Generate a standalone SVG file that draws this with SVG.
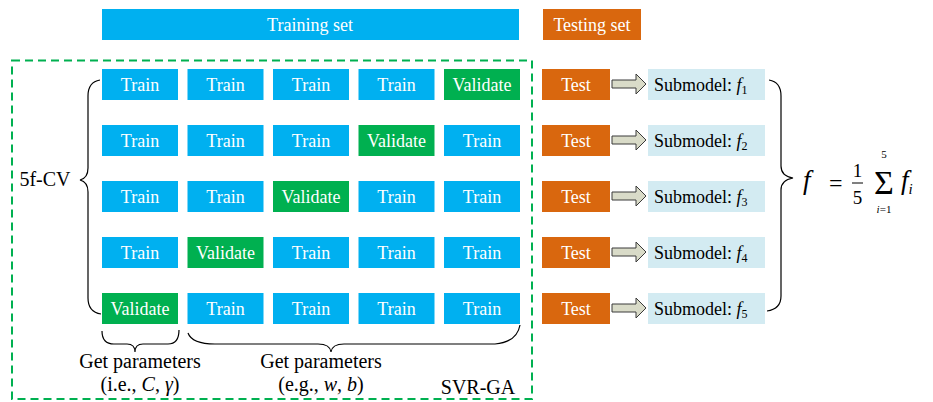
<svg xmlns="http://www.w3.org/2000/svg" width="933" height="402" viewBox="0 0 933 402" font-family="'Liberation Serif','Times New Roman',Times,serif">
<style>
text{font-family:'Liberation Serif','Times New Roman',Times,serif;}
.b{fill:#00b0f0;}
.g{fill:#00b050;}
.o{fill:#d9670e;}
.s{fill:#d3ebf2;}
.wt{fill:#fff;font-size:18px;text-anchor:middle;}
.bt{fill:#000;font-size:18px;}
.lt{fill:#000;font-size:20px;text-anchor:middle;}
.br{fill:none;stroke:#000;stroke-width:1.2;}
.it{font-style:italic;}
.ar{fill:#d9dbc8;stroke:#3a3a3a;stroke-width:1;}
</style>
<defs>
<path id="arrow" d="M0,0 L24,0 L24,-6 L34,4 L24,14 L24,8 L0,8 Z"/>
</defs>
<rect width="933" height="402" fill="#fff"/>

<g id="training-set"><rect class="b" x="102" y="9" width="417" height="31"/><text class="wt" x="310" y="30.5">Training set</text></g>
<g id="testing-set"><rect class="o" x="543" y="9" width="98" height="31"/><text class="wt" x="592" y="30.5">Testing set</text></g>

<g id="svr-ga"><rect x="12" y="60.5" width="520" height="338.5" fill="none" stroke="#00b050" stroke-width="2" stroke-dasharray="8 5"/><text class="lt" x="478" y="394">SVR-GA</text></g>

<g id="cv-label"><text class="lt" x="45" y="186" font-size="21">5f-CV</text>
<path class="br" d="M100,80 Q88,82 88,96 L88,168 Q88,178 80,180 Q88,182 88,192 L88,298 Q88,312 101,314"/></g>

<g id="row1">
<rect class="b" x="102" y="69" width="76" height="31"/><text class="wt" x="140" y="90.5">Train</text>
<rect class="b" x="187.5" y="69" width="76" height="31"/><text class="wt" x="225.5" y="90.5">Train</text>
<rect class="b" x="273" y="69" width="76" height="31"/><text class="wt" x="311" y="90.5">Train</text>
<rect class="b" x="358.5" y="69" width="76" height="31"/><text class="wt" x="396.5" y="90.5">Train</text>
<rect class="g" x="444" y="69" width="76" height="31"/><text class="wt" x="482" y="90.5">Validate</text>
</g>
<g id="row2">
<rect class="b" x="102" y="125" width="76" height="31"/><text class="wt" x="140" y="146.5">Train</text>
<rect class="b" x="187.5" y="125" width="76" height="31"/><text class="wt" x="225.5" y="146.5">Train</text>
<rect class="b" x="273" y="125" width="76" height="31"/><text class="wt" x="311" y="146.5">Train</text>
<rect class="g" x="358.5" y="125" width="76" height="31"/><text class="wt" x="396.5" y="146.5">Validate</text>
<rect class="b" x="444" y="125" width="76" height="31"/><text class="wt" x="482" y="146.5">Train</text>
</g>
<g id="row3">
<rect class="b" x="102" y="181" width="76" height="31"/><text class="wt" x="140" y="202.5">Train</text>
<rect class="b" x="187.5" y="181" width="76" height="31"/><text class="wt" x="225.5" y="202.5">Train</text>
<rect class="g" x="273" y="181" width="76" height="31"/><text class="wt" x="311" y="202.5">Validate</text>
<rect class="b" x="358.5" y="181" width="76" height="31"/><text class="wt" x="396.5" y="202.5">Train</text>
<rect class="b" x="444" y="181" width="76" height="31"/><text class="wt" x="482" y="202.5">Train</text>
</g>
<g id="row4">
<rect class="b" x="102" y="237" width="76" height="31"/><text class="wt" x="140" y="258.5">Train</text>
<rect class="g" x="187.5" y="237" width="76" height="31"/><text class="wt" x="225.5" y="258.5">Validate</text>
<rect class="b" x="273" y="237" width="76" height="31"/><text class="wt" x="311" y="258.5">Train</text>
<rect class="b" x="358.5" y="237" width="76" height="31"/><text class="wt" x="396.5" y="258.5">Train</text>
<rect class="b" x="444" y="237" width="76" height="31"/><text class="wt" x="482" y="258.5">Train</text>
</g>
<g id="row5">
<rect class="g" x="102" y="293" width="76" height="31"/><text class="wt" x="140" y="314.5">Validate</text>
<rect class="b" x="187.5" y="293" width="76" height="31"/><text class="wt" x="225.5" y="314.5">Train</text>
<rect class="b" x="273" y="293" width="76" height="31"/><text class="wt" x="311" y="314.5">Train</text>
<rect class="b" x="358.5" y="293" width="76" height="31"/><text class="wt" x="396.5" y="314.5">Train</text>
<rect class="b" x="444" y="293" width="76" height="31"/><text class="wt" x="482" y="314.5">Train</text>
</g>

<g id="params-svm">
<path class="br" d="M102,331 Q102,344 114,344 L127,344 Q135,344 135,352 Q135,344 143,344 L168,344 Q179,344 179,330"/>
<text class="lt" x="140" y="368">Get parameters</text>
<text class="lt" x="140" y="391">(i.e., <tspan class="it">C</tspan>, <tspan class="it">γ</tspan>)</text>
</g>
<g id="params-ga">
<path class="br" d="M188,333 Q192,344 215,344 L318,344 Q330,344 331,352 Q332,344 344,344 L495,344 Q517,342 520,325"/>
<text class="lt" x="321" y="368">Get parameters</text>
<text class="lt" x="321" y="391">(e.g., <tspan class="it">w</tspan>, <tspan class="it">b</tspan>)</text>
</g>

<g id="test1"><rect class="o" x="542" y="69" width="68" height="31"/><text class="wt" x="576" y="90.5">Test</text></g>
<g id="test2"><rect class="o" x="542" y="125" width="68" height="31"/><text class="wt" x="576" y="146.5">Test</text></g>
<g id="test3"><rect class="o" x="542" y="181" width="68" height="31"/><text class="wt" x="576" y="202.5">Test</text></g>
<g id="test4"><rect class="o" x="542" y="237" width="68" height="31"/><text class="wt" x="576" y="258.5">Test</text></g>
<g id="test5"><rect class="o" x="542" y="293" width="68" height="31"/><text class="wt" x="576" y="314.5">Test</text></g>

<g id="submodel1"><rect class="s" x="648" y="69" width="117" height="31"/><text class="bt" x="654" y="90.5">Submodel: <tspan class="it">f</tspan><tspan font-size="12" dy="3">1</tspan></text></g>
<g id="submodel2"><rect class="s" x="648" y="125" width="117" height="31"/><text class="bt" x="654" y="146.5">Submodel: <tspan class="it">f</tspan><tspan font-size="12" dy="3">2</tspan></text></g>
<g id="submodel3"><rect class="s" x="648" y="181" width="117" height="31"/><text class="bt" x="654" y="202.5">Submodel: <tspan class="it">f</tspan><tspan font-size="12" dy="3">3</tspan></text></g>
<g id="submodel4"><rect class="s" x="648" y="237" width="117" height="31"/><text class="bt" x="654" y="258.5">Submodel: <tspan class="it">f</tspan><tspan font-size="12" dy="3">4</tspan></text></g>
<g id="submodel5"><rect class="s" x="648" y="293" width="117" height="31"/><text class="bt" x="654" y="314.5">Submodel: <tspan class="it">f</tspan><tspan font-size="12" dy="3">5</tspan></text></g>

<g id="connectors">
<use href="#arrow" class="ar" x="612" y="80"/>
<use href="#arrow" class="ar" x="612" y="136"/>
<use href="#arrow" class="ar" x="612" y="192"/>
<use href="#arrow" class="ar" x="612" y="248"/>
<use href="#arrow" class="ar" x="612" y="304"/>
</g>

<g id="ensemble">
<path class="br" d="M769,80 Q781,82 781,96 L781,166 Q781,176 793,178 Q781,180 781,190 L781,296 Q781,309 767,311"/>
<text x="803" y="189" font-size="27" class="it">f</text>
<text x="829" y="191" font-size="24">=</text>
<text x="857.5" y="177" font-size="19" text-anchor="middle">1</text>
<line x1="852" y1="183" x2="863" y2="183" stroke="#000" stroke-width="1"/>
<text x="857.5" y="204" font-size="19" text-anchor="middle">5</text>
<text x="884" y="194" font-size="34" text-anchor="middle">Σ</text>
<text x="884" y="158" font-size="11" text-anchor="middle">5</text>
<text x="884" y="213" font-size="11" text-anchor="middle"><tspan class="it">i</tspan>=1</text>
<text x="901" y="189" font-size="27" class="it">f<tspan font-size="15" dy="5">i</tspan></text>
</g>
</svg>
